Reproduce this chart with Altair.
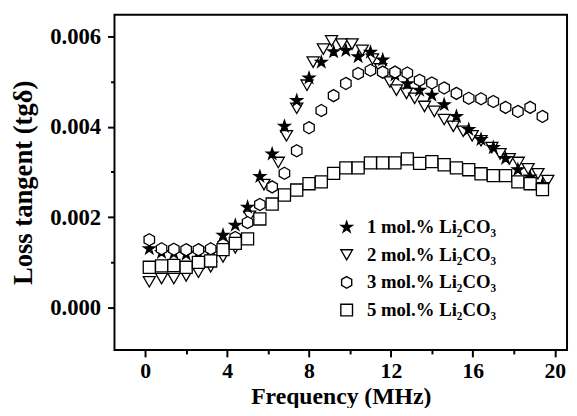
import altair as alt
import pandas as pd

# ---- data ----
labels = ["1 mol.% Li₂CO₃", "2 mol.% Li₂CO₃", "3 mol.% Li₂CO₃", "5 mol.% Li₂CO₃"]

freq_grid = [0.2, 0.8, 1.4, 2.0, 2.6, 3.2, 3.8, 4.4, 5.0, 5.6, 6.2, 6.8, 7.4, 8.0, 8.6, 9.2,
             9.8, 10.4, 11.0, 11.6, 12.2, 12.8, 13.4, 14.0, 14.6, 15.2, 15.8, 16.4, 17.0,
             17.6, 18.2, 18.8, 19.4]

loss_1 = [0.00130, 0.00122, 0.00120, 0.00118, 0.00120, 0.00128, 0.00160, 0.00182, 0.00222,
          0.00290, 0.00340, 0.00401, 0.00458, 0.00508, 0.00543, 0.00566, 0.00569, 0.00555,
          0.00565, 0.00548, 0.00515, 0.00495, 0.00481, 0.00470, 0.00449, 0.00423, 0.00394,
          0.00372, 0.00354, 0.00330, 0.00305, 0.00289, 0.00272]

freq_2 = [0.2, 0.8, 1.4, 2.0, 2.6, 3.2, 3.8, 4.4, 5.1, 5.8, 6.5, 6.9, 7.4, 7.9, 8.2, 8.7, 9.1,
          9.6, 10.1, 10.6, 11.1, 11.5, 11.95, 12.27, 12.76, 13.16, 13.64, 14.12, 14.6, 15.05,
          15.53, 15.97, 16.4, 16.93, 17.33, 17.78, 18.22, 18.7, 19.18, 19.66]
loss_2 = [0.00057, 0.00064, 0.00064, 0.00070, 0.00078, 0.00090, 0.00112, 0.00132, 0.00202,
          0.00272, 0.00321, 0.00380, 0.00441, 0.00492, 0.00543, 0.00572, 0.00590, 0.00583,
          0.00583, 0.00569, 0.00550, 0.00528, 0.00499, 0.00481, 0.00474, 0.00463, 0.00445,
          0.00434, 0.00416, 0.00401, 0.00390, 0.00380, 0.00369, 0.00354, 0.00340, 0.00329,
          0.00321, 0.00307, 0.00296, 0.00281]

loss_3 = [0.00150, 0.00130, 0.00129, 0.00128, 0.00128, 0.00130, 0.00139, 0.00155, 0.00188,
          0.00228, 0.00267, 0.00297, 0.00347, 0.00398, 0.00436, 0.00469, 0.00496, 0.00518,
          0.00525, 0.00521, 0.00521, 0.00519, 0.00503, 0.00497, 0.00486, 0.00474, 0.00463,
          0.00462, 0.00456, 0.00443, 0.00434, 0.00443, 0.00423]

loss_5 = [0.00089, 0.00092, 0.00093, 0.00089, 0.00100, 0.00103, 0.00128, 0.00142, 0.00152,
          0.00196, 0.00229, 0.00249, 0.00260, 0.00274, 0.00278, 0.00297, 0.00309, 0.00309,
          0.00320, 0.00320, 0.00320, 0.00329, 0.00319, 0.00323, 0.00316, 0.00309, 0.00305,
          0.00296, 0.00292, 0.00292, 0.00278, 0.00274, 0.00261]

x_ticks = [0, 2, 4, 6, 8, 10, 12, 14, 16, 18, 20]          # labels every 4
y_ticks = [0.000, 0.001, 0.002, 0.003, 0.004, 0.005, 0.006]  # labels every 0.002

# draw order: triangles, stars, hexagons, squares
rows = []
for f, v in zip(freq_2, loss_2):
    rows.append({"freq": f, "loss": v, "series": labels[1]})
for f, v in zip(freq_grid, loss_1):
    rows.append({"freq": f, "loss": v, "series": labels[0]})
for f, v in zip(freq_grid, loss_3):
    rows.append({"freq": f, "loss": v, "series": labels[2]})
for f, v in zip(freq_grid, loss_5):
    rows.append({"freq": f, "loss": v, "series": labels[3]})
df = pd.DataFrame(rows)

FONT = "Liberation Serif"
hexagon = "M0,-1L0.866,-0.5L0.866,0.5L0,1L-0.866,0.5L-0.866,-0.5Z"
star = ("M0,-1L0.2245,-0.309L0.9511,-0.309L0.3633,0.118L0.5878,0.809L0,0.382"
        "L-0.5878,0.809L-0.3633,0.118L-0.9511,-0.309L-0.2245,-0.309Z")

xscale = alt.Scale(domain=[-1.5, 20.6], nice=False, zero=False)
yscale = alt.Scale(domain=[-0.00094, 0.00648], nice=False, zero=False)

legend = alt.Legend(
    title=None, orient="none", legendX=226, legendY=206,
    labelFont=FONT, labelFontWeight="bold", labelFontSize=19, labelColor="black",
    symbolStrokeWidth=1.4, symbolSize=140,
    rowPadding=8, labelOffset=11, padding=0,
)

x_major_test = "datum.value % 4 === 0"
y_major_test = "round(datum.value * 1000) % 2 === 0"

points = alt.Chart(df).mark_point(filled=True, strokeWidth=1.3, size=150, opacity=1).encode(
    x=alt.X("freq:Q", scale=xscale,
            axis=alt.Axis(values=x_ticks, title="Frequency (MHz)", orient="bottom",
                          tickSize={"condition": {"test": x_major_test, "value": 7}, "value": 4},
                          labelExpr="datum.value % 4 === 0 ? datum.label : ''",
                          labelFontSize=22, titleFontSize=24,
                          labelPadding=4, titlePadding=3, format="d")),
    y=alt.Y("loss:Q", scale=yscale,
            axis=alt.Axis(values=y_ticks, title="Loss tangent (tgδ)", orient="left",
                          tickSize={"condition": {"test": y_major_test, "value": 7}, "value": 4},
                          labelExpr="round(datum.value * 1000) % 2 === 0 ? datum.label : ''",
                          labelFontSize=23, titleFontSize=27,
                          format=".3f", labelPadding=7, titlePadding=12)),
    shape=alt.Shape("series:N", scale=alt.Scale(domain=labels, range=[star, "triangle-down", hexagon, "square"]),
                    legend=legend, sort=labels),
    fill=alt.Fill("series:N", scale=alt.Scale(domain=labels, range=["black", "white", "white", "white"]),
                  legend=legend, sort=labels),
    stroke=alt.Stroke("series:N", scale=alt.Scale(domain=labels, range=["black", "black", "black", "black"]),
                      legend=legend, sort=labels),
)

chart = points.properties(
    width=459, height=340,
    autosize=alt.AutoSizeParams(type="none"),
    padding={"left": 108, "top": 4, "right": 2, "bottom": 56},
    background="white",
).configure_view(
    stroke="black", strokeWidth=2
).configure_axis(
    domain=False, grid=False, tickColor="black", tickWidth=2,
    labelFont=FONT, labelFontWeight="bold", labelColor="black",
    titleFont=FONT, titleFontWeight="bold", titleColor="black",
)

chart.save("out.html", embed_options={"renderer": "svg", "actions": False})
